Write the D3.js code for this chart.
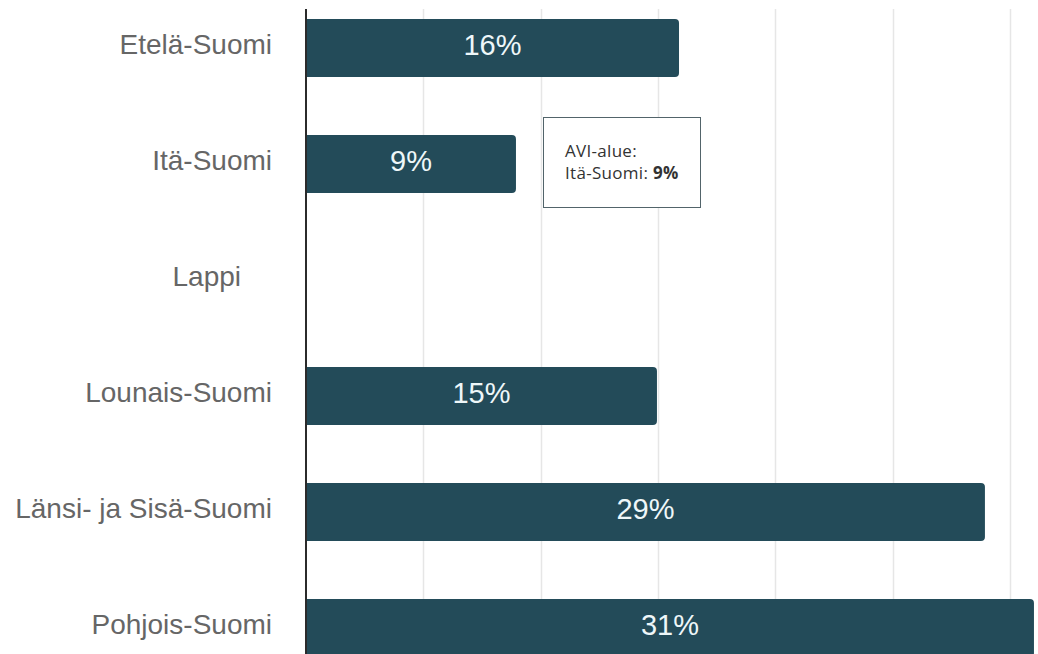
<!DOCTYPE html>
<html>
<head>
<meta charset="utf-8">
<script src="https://cdn.jsdelivr.net/npm/d3@7"></script>
<style>
  html, body { margin: 0; padding: 0; background: #fff; overflow: hidden; }
  svg { display: block; }
</style>
</head>
<body>
<svg id="chart" width="1038" height="654"></svg>
<script>
const categories = ["Etelä-Suomi", "Itä-Suomi", "Lappi", "Lounais-Suomi", "Länsi- ja Sisä-Suomi", "Pohjois-Suomi"];
const values = [15.9, 8.95, null, 14.96, 28.94, 31.03];
const valueLabels = ["16%", "9%", "", "15%", "29%", "31%"];
const gridTicks = [5, 10, 15, 20, 25, 30];
const tooltipTitle = "AVI-alue:";
const tooltipIndex = 1;

const svg = d3.select("#chart");
const W = 1038, H = 654;

const x = d3.scaleLinear().domain([0, 35]).range([306, 306 + 35 * 23.46]);
const y = d3.scaleBand().domain(categories).range([-10, 686]).paddingInner(0.5).paddingOuter(0.25);

// gridlines
svg.append("g").selectAll("line").data(gridTicks).join("line")
  .attr("x1", d => Math.round(x(d)) + 0.5).attr("x2", d => Math.round(x(d)) + 0.5)
  .attr("y1", 9).attr("y2", H)
  .attr("stroke", "#e6e6e6").attr("stroke-width", 1.5);

// bars with rounded right corners
const r = 4;
function barPath(x0, y0, x1, h) {
  return `M${x0},${y0}H${x1 - r}Q${x1},${y0} ${x1},${y0 + r}V${y0 + h - r}Q${x1},${y0 + h} ${x1 - r},${y0 + h}H${x0}Z`;
}
const barData = categories.map((c, i) => ({ c, v: values[i], label: valueLabels[i] })).filter(d => d.v != null && d.v > 0);

svg.append("g").selectAll("path").data(barData).join("path")
  .attr("d", d => barPath(x(0), y(d.c), x(d.v), y.bandwidth()))
  .attr("fill", "#234b59");

svg.append("g").selectAll("text").data(barData).join("text")
  .attr("x", d => (x(0) + x(d.v)) / 2)
  .attr("y", d => y(d.c) + y.bandwidth() / 2 + 7)
  .attr("text-anchor", "middle")
  .attr("font-family", "Liberation Sans, Arial, sans-serif")
  .attr("font-size", 29)
  .attr("fill", "#eef7f9")
  .text(d => d.label);

// axis line
svg.append("line")
  .attr("x1", x(0)).attr("x2", x(0)).attr("y1", 9).attr("y2", H)
  .attr("stroke", "#2b2b2b").attr("stroke-width", 2);

// category labels
svg.append("g").selectAll("text").data(categories).join("text")
  .attr("x", (d, i) => values[i] == null ? 241 : 272)
  .attr("y", d => y(d) + y.bandwidth() / 2 + 6)
  .attr("text-anchor", "end")
  .attr("font-family", "Liberation Sans, Arial, sans-serif")
  .attr("font-size", 28)
  .attr("fill", "#666")
  .text(d => d);

// tooltip
const tip = svg.append("g").attr("transform", "translate(543.5,117.5)");
tip.append("rect").attr("width", 157).attr("height", 90)
  .attr("fill", "#fff").attr("stroke", "#52646a").attr("stroke-width", 1);
tip.append("text").attr("x", 21.5).attr("y", 39.5)
  .attr("font-family", "Open Sans, sans-serif").attr("font-size", 17).attr("letter-spacing", 0.3).attr("fill", "#333")
  .text(tooltipTitle);
const t2 = tip.append("text").attr("x", 21.5).attr("y", 61)
  .attr("font-family", "Open Sans, sans-serif").attr("font-size", 17).attr("letter-spacing", 0.3).attr("fill", "#333");
t2.append("tspan").text(categories[tooltipIndex] + ": ");
t2.append("tspan").attr("font-weight", "bold").text(valueLabels[tooltipIndex]);
</script>
</body>
</html>
